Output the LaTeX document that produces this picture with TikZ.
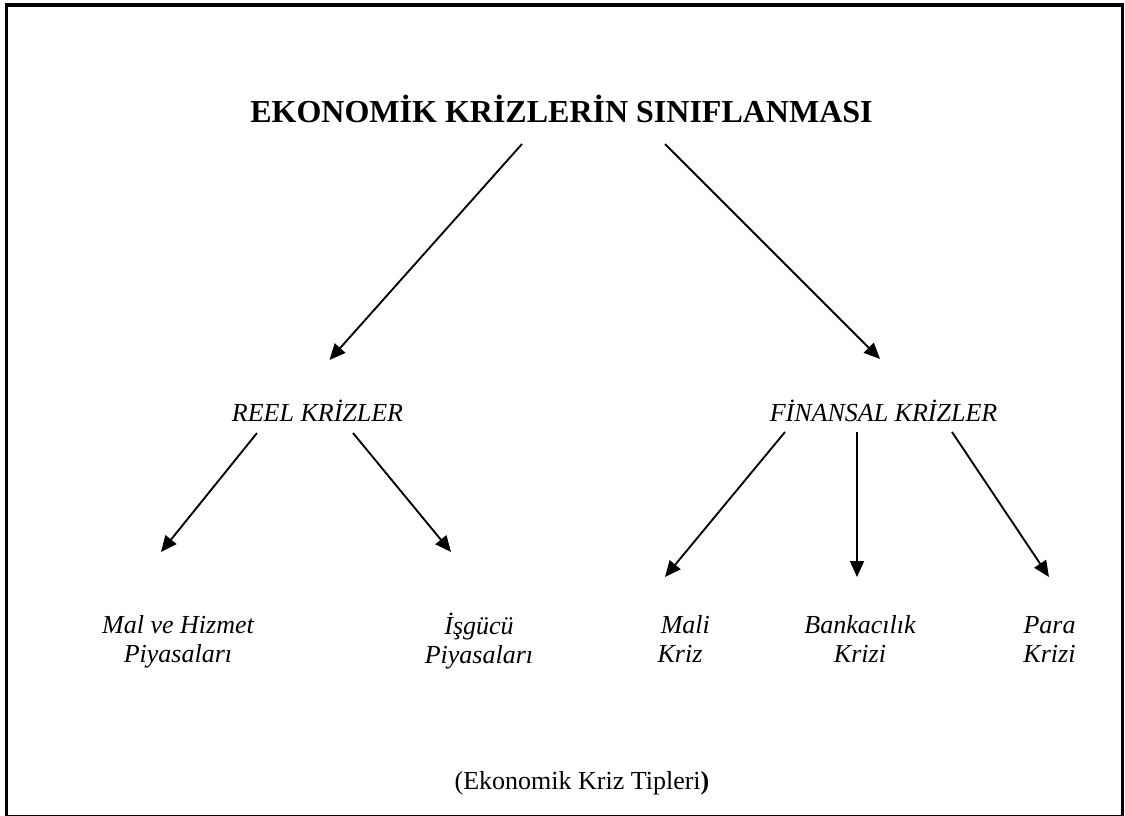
\documentclass[tikz,border=0pt]{standalone}
\usepackage{fontspec}
\setmainfont{Liberation Serif}
\usetikzlibrary{arrows.meta}

\begin{document}
\begin{tikzpicture}[x=0.75pt, y=-0.75pt,
    >={Triangle[length=12pt,width=10.5pt]},
    every node/.style={inner sep=0pt, outer sep=0pt},
    head/.style={font=\fontsize{24}{28}\selectfont\bfseries},
    branch/.style={font=\fontsize{19.5}{21.75}\selectfont\itshape},
    leaf/.style={font=\fontsize{19.5}{21.75}\selectfont\itshape,
                 align=center, anchor=north},
    link/.style={->, line width=1.4pt}]

  % Frame round the whole figure
  \useasboundingbox (0,0) rectangle (1125,816);
  \draw[line width=2.6pt] (6.5,5) rectangle (1122.5,816.5);

  % Top heading and the two main groups
  \node[head, anchor=base] (title) at (561.5,123) {EKONOMİK KRİZLERİN SINIFLANMASI};
  \node[branch, anchor=base] (reel) at (317.5,422) {REEL KRİZLER};
  \node[branch, anchor=base] (finans) at (883.5,422) {FİNANSAL KRİZLER};

  % Sub types
  \node[leaf] (malhizmet) at (178,612.7) {Mal ve Hizmet\strut\\Piyasaları\strut};
  \node[leaf] (isgucu) at (479,612.7) {İşgücü\strut\\Piyasaları\strut};
  \node[leaf] (mali) at (680,612.7) {\hspace*{8pt}Mali\strut\\Kriz\strut};
  \node[leaf] (banka) at (860,612.7) {Bankacılık\strut\\Krizi\strut};
  \node[leaf] (para) at (1049.5,612.7) {Para\strut\\Krizi\strut};

  % Caption
  \node[anchor=base, font=\fontsize{19.5}{21.75}\selectfont] (caption) at (582,789)
        {(Ekonomik Kriz Tipleri\textbf{)}};

  % Arrows from top to bottom
  \draw[link] ([shift={(-39.5,21)}]title.base) -- ([shift={(12,-62)}]reel.base);
  \draw[link] ([shift={(103.5,21)}]title.base) -- ([shift={(-3.5,-63)}]finans.base);
  \draw[link] ([shift={(-60.5,11)}]reel.base) -- ([shift={(-17,-60.7)}]malhizmet.north);
  \draw[link] ([shift={(35.5,11)}]reel.base) -- ([shift={(-28,-60.7)}]isgucu.north);
  \draw[link] ([shift={(-98.5,10)}]finans.base) -- ([shift={(-15,-35.7)}]mali.north);
  \draw[link] ([shift={(-26.5,10)}]finans.base) -- ([shift={(-3,-35.7)}]banka.north);
  \draw[link] ([shift={(68.5,10)}]finans.base) -- ([shift={(-0.5,-35.7)}]para.north);

\end{tikzpicture}
\end{document}
